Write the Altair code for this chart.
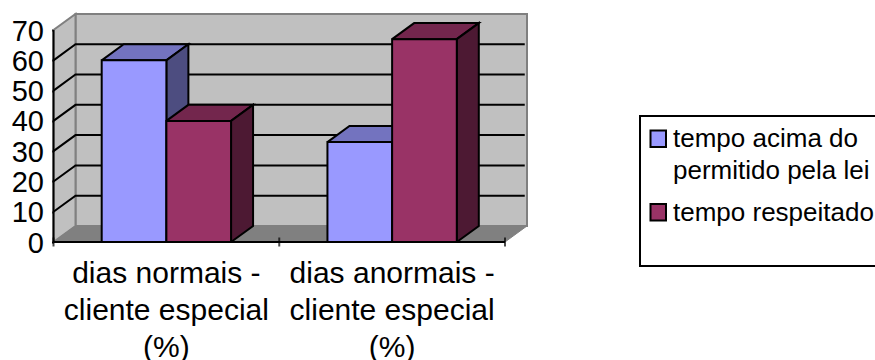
import altair as alt
import pandas as pd

categories = ["dias normais -\ncliente especial\n(%)", "dias anormais -\ncliente especial\n(%)"]
series_names = ["tempo acima do permitido pela lei", "tempo respeitado"]
legend_lines = [["tempo acima do", "permitido pela lei"], ["tempo respeitado"]]
series_values = [[60, 33], [40, 67]]
y_ticks = [0, 10, 20, 30, 40, 50, 60, 70]
grid_levels = [10, 20, 30, 40, 50, 60]

front_colors = ["#9999FF", "#993366"]
top_colors = ["#7373BF", "#73264D"]
side_colors = ["#4D4D80", "#4D1933"]

FONT = "Liberation Sans"
LINE = 2                  # outline width of bars, gridlines and axes
DX, DZ = 0.0975, 5.3      # oblique offset of the chart's depth, in axis units
BAR_W, GAP = 0.2865, 0.2135  # bar width and the margin before the first bar, per category
YMAX = 70
LEFT, TOP = 53.5, 14      # view origin inside the canvas

x_enc = alt.X("x:Q", scale=alt.Scale(domain=[0, 2 + DX], nice=False, zero=False), axis=None)
y_enc = alt.Y("y:Q", scale=alt.Scale(domain=[0, YMAX + DZ], nice=False, zero=False),
              axis=alt.Axis(values=y_ticks, title=None, domain=False, grid=False, tickSize=2,
                            tickColor="black", tickWidth=LINE, labelFont=FONT, labelFontSize=29,
                            labelColor="black", labelPadding=8, labelOffset=1))


def polygon(points, fill, stroke, width):
    closed = points + [points[0]]
    df = pd.DataFrame([{"x": p[0], "y": p[1], "i": i} for i, p in enumerate(closed)])
    return alt.Chart(df).mark_line(fill=fill, stroke=stroke, strokeWidth=width,
                                   strokeJoin="miter", interpolate="linear").encode(
        x=x_enc, y=y_enc, order="i:Q")


def polyline(points, stroke, width):
    df = pd.DataFrame([{"x": p[0], "y": p[1], "i": i} for i, p in enumerate(points)])
    return alt.Chart(df).mark_line(stroke=stroke, strokeWidth=width).encode(
        x=x_enc, y=y_enc, order="i:Q")


layers = []

# chart box: back wall, side wall and floor
layers.append(polygon([(DX, DZ), (2 + DX, DZ), (2 + DX, YMAX + DZ), (DX, YMAX + DZ)], "#C0C0C0", "#808080", 2))
layers.append(polygon([(0, 0), (DX, DZ), (DX, YMAX + DZ), (0, YMAX)], "#C0C0C0", "#808080", 2))
layers.append(polygon([(0, 0), (2, 0), (2 + DX, DZ), (DX, DZ)], "#808080", "#808080", 1))

# gridlines run along the side wall and across the back wall
for level in grid_levels:
    layers.append(polyline([(0, level), (DX, level + DZ), (2 + DX - 0.01, level + DZ)], "black", LINE))

# floor front edge and the vertical axis line
layers.append(polyline([(0, 0), (2, 0)], "black", LINE))
layers.append(polyline([(0, 0), (0, YMAX)], "black", LINE))
for c in [0, 1, 2]:
    tick = pd.DataFrame({"x": [c], "y": [0]})
    layers.append(alt.Chart(tick).mark_tick(orient="vertical", color="black", thickness=LINE, size=9).encode(
        x=x_enc, y=y_enc))

# bars, one series at a time so each front face covers the previous side face
for s, name in enumerate(series_names):
    rows = []
    for c, value in enumerate(series_values[s]):
        x0 = c + GAP + s * BAR_W
        x1 = x0 + BAR_W
        rows.append({"x": x0, "x2": x1, "y": value, "y2": 0, "serie": name})
        layers.append(polygon([(x0, value), (x1, value), (x1 + DX, value + DZ), (x0 + DX, value + DZ)],
                              top_colors[s], "black", LINE))
        layers.append(polygon([(x1, 0), (x1 + DX, DZ), (x1 + DX, value + DZ), (x1, value)],
                              side_colors[s], "black", LINE))
    bars = alt.Chart(pd.DataFrame(rows)).mark_bar(stroke="black", strokeWidth=LINE).encode(
        x=x_enc, x2="x2:Q", y=y_enc, y2="y2:Q",
        fill=alt.Fill("serie:N", scale=alt.Scale(domain=series_names, range=front_colors), legend=None))
    layers.append(bars)

# category labels under the floor
label_df = pd.DataFrame({"x": [0.5, 1.5], "y": [0, 0], "label": categories})
layers.append(alt.Chart(label_df).mark_text(font=FONT, fontSize=30, color="black", baseline="top", dy=16.5,
                                            lineBreak="\n", lineHeight=37, align="center").encode(
    x=x_enc, y=y_enc, text="label:N"))

# legend: a frame running past the right edge, one swatch per series, wrapped labels
anchor = pd.DataFrame({"x": [0], "y": [0]})
layers.append(alt.Chart(anchor).mark_rect(fill="white", stroke="black", strokeWidth=2).encode(
    x=alt.value(640 - LEFT), x2=alt.value(900), y=alt.value(116 - TOP), y2=alt.value(266 - TOP)))
line_y = [[139, 171], [212.5]]
for s in range(len(series_names)):
    swatch_y = line_y[s][0]
    layers.append(alt.Chart(anchor).mark_rect(fill=front_colors[s], stroke="black", strokeWidth=LINE).encode(
        x=alt.value(650.5 - LEFT), x2=alt.value(666 - LEFT),
        y=alt.value(swatch_y - 8.5 - TOP), y2=alt.value(swatch_y + 8 - TOP)))
    for text, ypos in zip(legend_lines[s], line_y[s]):
        layers.append(alt.Chart(anchor).mark_text(
            font=FONT, fontSize=26, color="black", align="left", baseline="middle", text=text).encode(
            x=alt.value(673 - LEFT), y=alt.value(ypos - TOP)))

chart = alt.layer(*layers).resolve_scale(x="shared", y="shared").properties(
    width=473.5, height=228, autosize="none",
    padding={"left": LEFT, "top": TOP, "right": 348, "bottom": 118},
    background="white",
).configure_view(stroke=None)

chart.save("out.html", embed_options={"renderer": "svg", "actions": False})
